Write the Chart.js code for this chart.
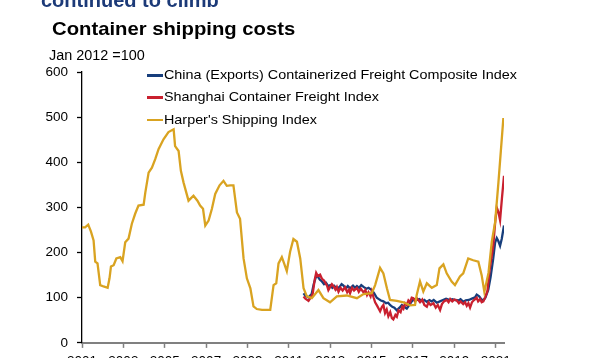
<!DOCTYPE html>
<html><head><meta charset="utf-8">
<script src="https://cdn.jsdelivr.net/npm/chart.js@4"></script>
<style>
html,body{margin:0;padding:0;background:#fff;overflow:hidden;}
#wrap{position:relative;width:594px;height:360px;font-family:"Liberation Sans",Arial,sans-serif;}
canvas{position:absolute;left:0;top:0;}
.t{position:absolute;white-space:nowrap;line-height:1;transform-origin:0 0;}
.leg{position:absolute;white-space:nowrap;line-height:1;font-size:13px;color:#000;transform-origin:0 0;transform:scaleX(1.105);}
.sw{position:absolute;height:2.5px;width:16px;}
</style></head>
<body><div id="wrap">
<canvas id="c" width="594" height="360"></canvas>
<div class="t" style="left:41px;top:-10px;font-size:20px;font-weight:bold;color:#1c3a78;">continued to climb</div>
<div class="t" style="left:52px;top:20.3px;font-size:18.6px;font-weight:bold;color:#000;transform:scaleX(1.09);">Container shipping costs</div>
<div class="t" style="left:49px;top:48.3px;font-size:14px;color:#000;transform:scaleX(1.03);">Jan 2012 =100</div>
<div id="legend"></div>
</div>
<script>
const seriesNames = ["China (Exports) Containerized Freight Composite Index","Shanghai Container Freight Index","Harper's Shipping Index"];
const seriesColors = ["#173e7c","#c9202f","#d9a321"];
const xTicks = [2001,2003,2005,2007,2009,2011,2013,2015,2017,2019,2021];
const yTicks = [0,100,200,300,400,500,600];

const ccfiX = [2011.71,2011.8,2011.95,2012.1,2012.2,2012.3,2012.38,2012.5,2012.6,2012.7,2012.8,2012.9,2013.0,2013.1,2013.2,2013.32,2013.45,2013.55,2013.64,2013.75,2013.85,2013.96,2014.1,2014.2,2014.29,2014.4,2014.5,2014.61,2014.75,2014.85,2015.01,2015.12,2015.25,2015.35,2015.45,2015.57,2015.7,2015.8,2015.89,2016.0,2016.1,2016.22,2016.35,2016.46,2016.58,2016.7,2016.82,2016.94,2017.05,2017.18,2017.3,2017.45,2017.55,2017.67,2017.8,2017.9,2018.0,2018.15,2018.3,2018.45,2018.6,2018.79,2018.9,2019.05,2019.2,2019.3,2019.43,2019.55,2019.7,2019.85,2020.0,2020.08,2020.2,2020.3,2020.4,2020.5,2020.64,2020.75,2020.88,2020.97,2021.05,2021.13,2021.21,2021.29,2021.4];
const ccfiY = [110,104,101,108,130,145,148,140,136,130,133,126,128,122,126,119,124,130,127,120,126,121,127,122,126,122,128,124,120,122,117,110,100,97,94,92,88,89,84,80,78,72,78,84,80,76,84,92,97,95,97,92,95,91,95,92,95,89,92,95,98,95,97,95,94,97,91,94,95,98,101,107,103,97,94,100,118,145,187,222,232,225,215,230,260];

const scfiX = [2011.71,2011.8,2011.95,2012.05,2012.15,2012.25,2012.32,2012.4,2012.51,2012.6,2012.7,2012.75,2012.85,2012.91,2013.0,2013.08,2013.15,2013.25,2013.32,2013.4,2013.5,2013.6,2013.72,2013.82,2013.9,2013.96,2014.05,2014.15,2014.29,2014.38,2014.48,2014.61,2014.7,2014.78,2014.85,2014.95,2015.01,2015.1,2015.17,2015.27,2015.35,2015.41,2015.5,2015.57,2015.65,2015.73,2015.81,2015.9,2015.98,2016.05,2016.15,2016.22,2016.3,2016.4,2016.48,2016.54,2016.62,2016.7,2016.78,2016.86,2016.94,2017.02,2017.1,2017.2,2017.34,2017.45,2017.55,2017.67,2017.75,2017.85,2017.99,2018.1,2018.2,2018.31,2018.4,2018.5,2018.63,2018.72,2018.8,2018.9,2019.0,2019.12,2019.22,2019.3,2019.43,2019.52,2019.6,2019.68,2019.76,2019.85,2019.95,2020.08,2020.15,2020.25,2020.32,2020.4,2020.5,2020.6,2020.7,2020.8,2020.88,2020.97,2021.05,2021.13,2021.21,2021.3,2021.4];
const scfiY = [103,98,93,100,108,140,155,148,151,142,138,134,126,117,124,130,126,118,124,113,122,116,123,112,118,110,122,116,122,113,120,112,117,106,112,103,114,100,90,82,75,70,80,84,66,74,59,68,55,52,62,58,72,68,80,76,88,84,94,90,100,99,92,98,90,96,84,80,90,84,88,78,84,73,86,92,95,90,97,92,96,94,88,92,86,90,82,88,78,90,95,100,92,97,90,92,102,115,160,190,215,265,300,290,272,320,370];

const harperX = [2001.0,2001.15,2001.3,2001.43,2001.56,2001.64,2001.75,2001.88,2002.04,2002.24,2002.33,2002.4,2002.53,2002.66,2002.85,2002.96,2003.09,2003.25,2003.41,2003.57,2003.73,2003.98,2004.06,2004.22,2004.38,2004.54,2004.7,2004.94,2005.18,2005.43,2005.5,2005.67,2005.78,2005.91,2006.15,2006.39,2006.58,2006.71,2006.85,2006.96,2007.12,2007.28,2007.44,2007.65,2007.84,2008.0,2008.16,2008.32,2008.49,2008.64,2008.81,2008.97,2009.14,2009.29,2009.45,2009.7,2010.1,2010.26,2010.39,2010.5,2010.66,2010.77,2010.9,2011.06,2011.22,2011.39,2011.55,2011.71,2011.87,2012.11,2012.43,2012.67,2012.99,2013.32,2013.8,2014.29,2014.61,2015.01,2015.17,2015.41,2015.57,2015.74,2015.89,2016.22,2016.54,2016.86,2017.1,2017.18,2017.34,2017.5,2017.67,2017.91,2018.15,2018.28,2018.47,2018.63,2018.87,2019.03,2019.27,2019.43,2019.67,2019.91,2020.16,2020.32,2020.45,2020.65,2020.81,2020.97,2021.13,2021.37];
const harperY = [256,256,262,247,227,180,176,128,125,122,143,169,172,187,190,181,223,231,264,286,304,306,333,377,388,407,429,451,467,473,436,425,381,355,315,326,315,304,297,260,271,297,330,349,359,348,349,349,289,275,187,143,121,81,75,73,73,128,132,176,190,176,159,202,230,224,187,121,103,99,117,99,90,103,105,99,108,110,128,166,154,121,95,93,90,83,84,106,136,114,132,122,128,165,174,154,136,128,147,154,187,183,180,150,113,155,224,267,355,498];

const zip = (xs, ys) => xs.map((x, i) => ({x, y: ys[i]}));

// HTML legend
const legend = document.getElementById('legend');
const legendBaselines = [79, 101, 123.5];
seriesNames.forEach((name, i) => {
  const sw = document.createElement('div');
  sw.className = 'sw';
  sw.style.left = '147px';
  sw.style.top = (legendBaselines[i] - 5) + 'px';
  sw.style.background = seriesColors[i];
  legend.appendChild(sw);
  const tx = document.createElement('div');
  tx.className = 'leg';
  tx.style.left = '164px';
  tx.style.top = (legendBaselines[i] - 11) + 'px';
  tx.textContent = name;
  legend.appendChild(tx);
});

const font = {family: '"Liberation Sans", Arial, sans-serif', size: 13.5};
new Chart(document.getElementById('c'), {
  type: 'line',
  data: {
    datasets: [
      {label: seriesNames[0], data: zip(ccfiX, ccfiY), borderColor: seriesColors[0], order: 2},
      {label: seriesNames[1], data: zip(scfiX, scfiY), borderColor: seriesColors[1], order: 1},
      {label: seriesNames[2], data: zip(harperX, harperY), borderColor: seriesColors[2], order: 0}
    ]
  },
  options: {
    responsive: false,
    animation: false,
    devicePixelRatio: 1,
    layout: {padding: {left: 0, right: 90, top: 72, bottom: 0}},
    elements: {line: {borderWidth: 2.3, tension: 0}, point: {radius: 0}},
    plugins: {legend: {display: false}, tooltip: {enabled: false}},
    scales: {
      x: {
        type: 'linear', min: 2001, max: 2021.4,
        afterFit: s => { s.height = 15; },
        afterBuildTicks: s => { s.ticks = xTicks.map(v => ({value: v})); },
        border: {color: '#808080', width: 2},
        grid: {drawOnChartArea: false, tickLength: 5, color: '#808080', tickWidth: 1.5},
        ticks: {padding: 5, color: '#000', font, maxRotation: 0, autoSkip: false, callback: v => String(v)}
      },
      y: {
        min: 0, max: 600,
        afterFit: s => { s.width = 82; },
        afterBuildTicks: s => { s.ticks = yTicks.map(v => ({value: v})); },
        border: {color: '#000', width: 1.3},
        grid: {drawOnChartArea: false, tickLength: 5, color: '#000', tickWidth: 1.3},
        ticks: {padding: 9, color: '#000', font, callback: v => String(v)}
      }
    }
  }
});
</script>
</body></html>
